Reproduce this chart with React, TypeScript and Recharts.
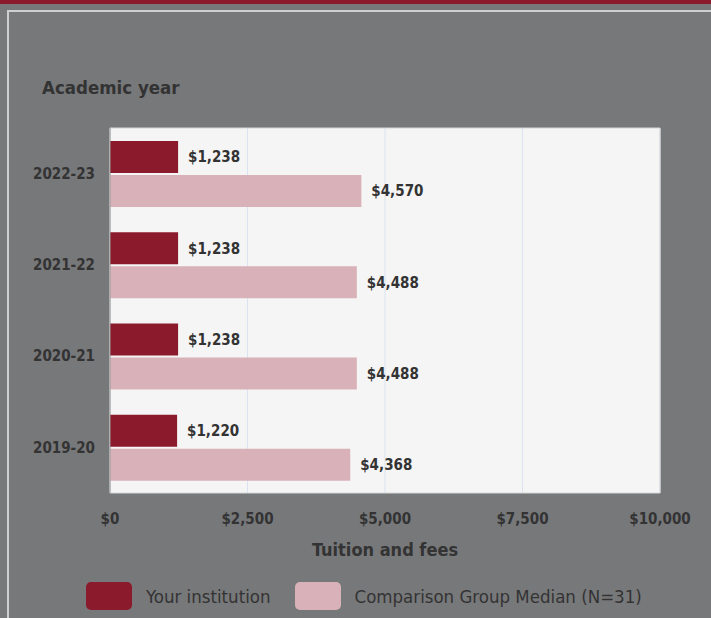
import {
  Bar,
  BarChart,
  CartesianGrid,
  LabelList,
  Label,
  ReferenceArea,
  XAxis,
  YAxis,
} from "recharts"

const YEARS = ["2022-23", "2021-22", "2020-21", "2019-20"]
const INSTITUTION = [1238, 1238, 1238, 1220]
const COMPARISON = [4570, 4488, 4488, 4368]
const X_TICKS = [0, 2500, 5000, 7500, 10000]

const SERIES = [
  { key: "inst", name: "Your institution", color: "#8a1a2c" },
  { key: "comp", name: "Comparison Group Median (N=31)", color: "#d8b2b8" },
]

const FONT = "'DejaVu Sans Condensed', 'Liberation Sans Narrow', Arial, sans-serif"
const TEXT = "#333333"
const PAGE_BG = "#77787a"

const money = (v: number) => `$${v.toLocaleString("en-US")}`

const tickStyle = { fill: TEXT, fontSize: 15, fontWeight: 700, fontFamily: FONT }

export default function App() {
  const data = YEARS.map((year, i) => ({
    year,
    inst: INSTITUTION[i],
    comp: COMPARISON[i],
  }))

  return (
    <div
      style={{
        position: "absolute",
        left: 0,
        top: 0,
        width: 711,
        height: 618,
        background: PAGE_BG,
        overflow: "hidden",
        fontFamily: FONT,
      }}
    >
      <div style={{ position: "absolute", left: 0, top: 0, width: 711, height: 4, background: "#8a1a2c" }} />
      <div
        style={{
          position: "absolute",
          left: 7,
          top: 10,
          width: 760,
          height: 700,
          borderLeft: "2px solid #cfcfcf",
          borderTop: "2px solid #cfcfcf",
        }}
      />
      <div
        style={{
          position: "absolute",
          left: 42,
          top: 77,
          fontSize: 18.5,
          fontWeight: 700,
          color: TEXT,
        }}
      >
        Academic year
      </div>

      <div style={{ position: "absolute", left: 0, top: 0 }}>
        <BarChart
          width={711}
          height={618}
          data={data}
          layout="vertical"
          margin={{ top: 128, right: 51, left: 0, bottom: 95 }}
          barSize={32}
          barGap={2}
        >
          <CartesianGrid fill="#f5f5f5" horizontal={false} stroke="#dbe2f0" />
          <ReferenceArea x1={0} x2={10000} fill="none" stroke="#d6d6d6" strokeWidth={1} />
          <XAxis
            type="number"
            domain={[0, 10000]}
            ticks={X_TICKS}
            tickFormatter={money}
            axisLine={false}
            tickLine={false}
            tickMargin={14}
            height={30}
            tick={tickStyle}
          >
            <Label
              value="Tuition and fees"
              position="bottom"
              offset={20}
              style={{ fill: TEXT, fontSize: 18, fontWeight: 700, fontFamily: FONT }}
            />
          </XAxis>
          <YAxis
            type="category"
            dataKey="year"
            width={110}
            axisLine={{ stroke: "#9a9a9a" }}
            tickLine={false}
            tickMargin={9}
            tick={tickStyle}
          />
          {SERIES.map((s) => (
            <Bar key={s.key} dataKey={s.key} name={s.name} fill={s.color} isAnimationActive={false}>
              <LabelList
                dataKey={s.key}
                position="right"
                offset={10}
                formatter={(v: unknown) => money(Number(v))}
                style={tickStyle}
              />
            </Bar>
          ))}
        </BarChart>
      </div>

      <div
        style={{
          position: "absolute",
          left: 86,
          top: 582,
          display: "flex",
          alignItems: "center",
        }}
      >
        {SERIES.map((s, i) => (
          <div key={s.key} style={{ display: "flex", alignItems: "center", marginRight: i === 0 ? 24 : 0 }}>
            <div style={{ width: 46, height: 28, borderRadius: 5, background: s.color }} />
            <span style={{ marginLeft: 14, fontSize: 18.5, color: TEXT }}>{s.name}</span>
          </div>
        ))}
      </div>
    </div>
  )
}
